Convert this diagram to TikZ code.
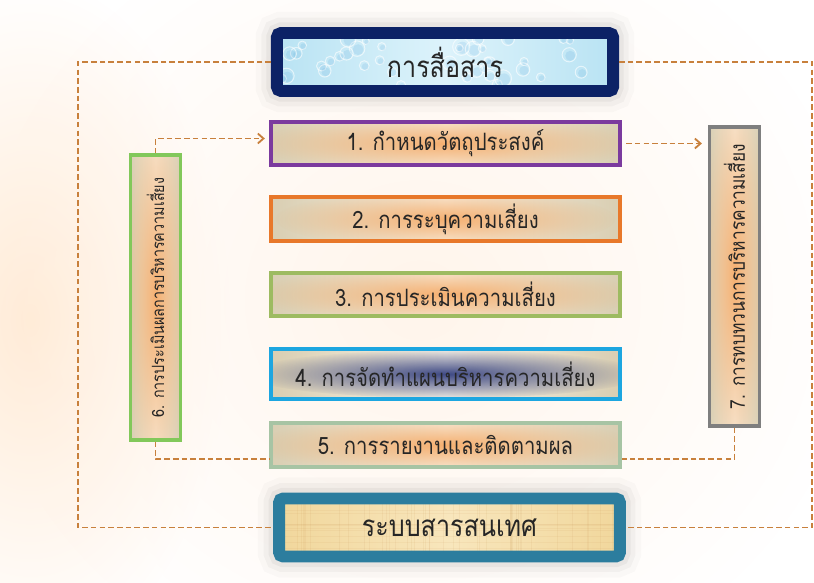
\documentclass[tikz,border=0pt]{standalone}
\usepackage{fontspec}
\newfontfamily\thaifont[Script=Thai, FakeStretch=0.85]{Loma}
\usetikzlibrary{calc,arrows.meta,fadings}

\definecolor{tan}{HTML}{D9CEB2}
\definecolor{cream}{HTML}{F8F3E7}
\definecolor{glowc}{HTML}{F5A45C}
\definecolor{navyglow}{HTML}{1E2C74}
\definecolor{navy}{HTML}{0C2266}
\definecolor{skyblue}{HTML}{B9E3F3}
\definecolor{paleblue}{HTML}{DDF3FB}
\definecolor{teal1}{HTML}{2C7D9E}
\definecolor{papyrus}{HTML}{F1D79C}
\definecolor{papyrus2}{HTML}{F8E6BC}
\definecolor{purple1}{HTML}{7B3A9E}
\definecolor{orange2}{HTML}{E8782A}
\definecolor{green3}{HTML}{9DBB61}
\definecolor{blue4}{HTML}{1DA6E0}
\definecolor{sage5}{HTML}{A7C4A4}
\definecolor{green6}{HTML}{82C85A}
\definecolor{grey7}{HTML}{7F7F7F}
\definecolor{linkc}{HTML}{C8803C}

\tikzfading[name=fuzzy, inner color=transparent!0, outer color=transparent!100]

\begin{document}
\begin{tikzpicture}[x=0.025cm, y=-0.025cm,
    stepbox/.style={rectangle, draw=#1, line width=2.8pt,
      left color=tan, right color=tan, middle color=cream,
      text=black!85, font=\thaifont\fontsize{17}{19}\selectfont,
      inner sep=0pt, minimum width=8.72cm, minimum height=1.08cm},
    sidebox/.style={stepbox=#1, minimum width=1.25cm},
    sidetext/.style={rotate=90, text=black!85, inner sep=0pt},
    glowing/.style n args={3}{path picture={
        \fill[#1, fill opacity=0.85, path fading=fuzzy] (path picture bounding box.center)
        ellipse [x radius=#2, y radius=#3];}},
    bigbox/.style={rectangle, rounded corners=3pt, draw=#1, line width=8.5pt,
      text=black!85, font=\thaifont\fontsize{21}{24}\selectfont,
      inner sep=0pt, minimum width=8.4cm, minimum height=1.45cm,
      preaction={draw=black, draw opacity=0.02, line width=30pt},
      preaction={draw=black, draw opacity=0.03, line width=22pt},
      preaction={draw=black, draw opacity=0.04, line width=15pt}},
    droplets/.style={left color=skyblue, right color=skyblue, middle color=paleblue,
      path picture={\pgfmathsetseed{11}
        \foreach \i in {1,...,40}{
          \pgfmathsetmacro\px{rnd*330-165}\pgfmathsetmacro\py{rnd*50-25}
          \pgfmathsetmacro\pr{3+rnd*6}
          \draw[white, draw opacity=0.6, line width=0.7pt]
            ($(path picture bounding box.center)+(\px,\py)$) circle [radius=\pr];
          \fill[cyan!60!blue, fill opacity=0.1]
            ($(path picture bounding box.center)+(\px+1,\py+1)$) circle [radius=\pr*0.7];}}},
    fibres/.style={left color=papyrus, right color=papyrus, middle color=papyrus2,
      path picture={\pgfmathsetseed{5}
        \foreach \i in {1,...,40}{
          \pgfmathsetmacro\px{rnd*330-165}
          \draw[brown, draw opacity=0.08, line width=0.8pt]
            ($(path picture bounding box.center)+(\px,-30)$) -- ++(0,60);}
        \foreach \i in {1,...,10}{
          \pgfmathsetmacro\py{rnd*50-25}
          \draw[brown, draw opacity=0.07, line width=0.6pt]
            ($(path picture bounding box.center)+(-170,\py)$) -- ++(340,0);}}},
    link/.style={draw=linkc, line width=1.3pt, dash pattern=on 4pt off 2.2pt}]

  \useasboundingbox (0,0) rectangle (814,583);
  \fill[white] (0,0) rectangle (814,583);
  % soft background glow
  \fill[orange!16, path fading=fuzzy] (30,320) ellipse [x radius=200, y radius=340];
  \fill[orange!8, path fading=fuzzy] (420,300) ellipse [x radius=440, y radius=400];

  % outer boxes
  \node[bigbox=navy, droplets] (comm) at (445,62) {การสื่อสาร};
  \node[bigbox=teal1, fibres, minimum width=8.52cm] (info) at (449.5,527.5) {ระบบสารสนเทศ};

  % steps
  \node[stepbox=purple1, glowing={glowc}{190}{30}] (s1) at (445.5,143.5) {1. กำหนดวัตถุประสงค์};
  \node[stepbox=orange2, glowing={glowc}{170}{30}] (s2) at (445.5,219) {2. การระบุความเสี่ยง};
  \node[stepbox=green3, glowing={glowc}{190}{30}] (s3) at (445.5,294.5) {3. การประเมินความเสี่ยง};
  \node[stepbox=blue4, minimum height=1.27cm, glowing={navyglow}{200}{24}] (s4) at (445.5,374) {4. การจัดทำแผนบริหารความเสี่ยง};
  \node[stepbox=sage5, glowing={glowc}{190}{30}] (s5) at (445.5,445) {5. การรายงานและติดตามผล};

  % side boxes, text turned upright
  \node[sidebox=green6, minimum height=7.1cm, glowing={glowc}{30}{210}] (s6) at (155.5,297.5) {};
  \node[sidetext, font=\thaifont\fontsize{12}{14}\selectfont] (t6) at (s6.center) {6. การประเมินผลการบริหารความเสี่ยง};
  \node[sidebox=grey7, minimum height=7.45cm, glowing={glowc}{30}{210}] (s7) at (734.5,276.5) {};
  \node[sidetext, font=\thaifont\fontsize{14.5}{17}\selectfont] (t7) at (s7.center) {7. การทบทวนการบริหารความเสี่ยง};

  \coordinate (lft) at (78,300);
  \coordinate (rgt) at (812,300);
  \begin{scope}[link, >={Straight Barb[length=4pt, width=7pt]}]
    \draw (comm.west) -| (lft) |- (info.west);
    \draw (comm.east) -| (rgt) |- (info.east);
    \draw[->, shorten >=3pt] (s6.north) |- ($(s1.west)+(0,-5)$);
    \draw (s6.south) |- ($(s5.west)+(0,14)$);
    \draw[->, shorten <=3pt, shorten >=4pt] (s1.east) -- (s1.east -| s7.west);
    \draw (s7.south) |- ($(s5.east)+(0,14)$);
  \end{scope}
\end{tikzpicture}
\end{document}
